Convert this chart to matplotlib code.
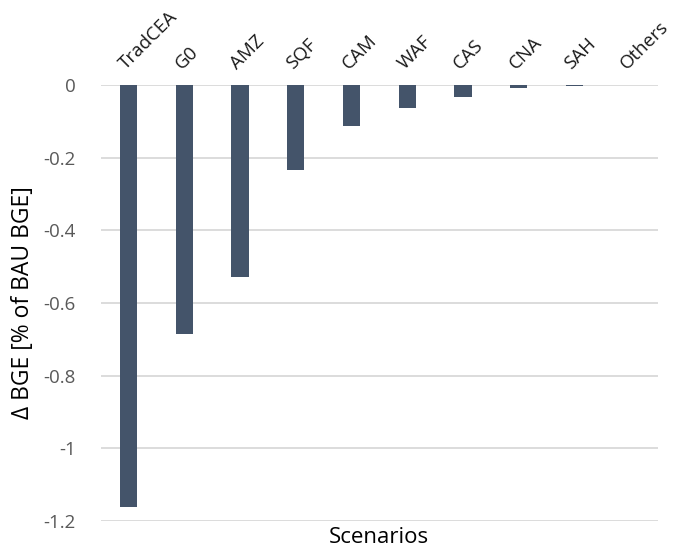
import matplotlib.pyplot as plt
import numpy as np

# Data
scenarios = ["TradCEA", "G0", "AMZ", "SQF", "CAM", "WAF", "CAS", "CNA", "SAH", "Others"]
delta_bge = [-1.162, -0.685, -0.528, -0.234, -0.113, -0.063, -0.032, -0.007, -0.002, -0.0005]
yticks = [0, -0.2, -0.4, -0.6, -0.8, -1, -1.2]
ytick_labels = ["0", "-0.2", "-0.4", "-0.6", "-0.8", "-1", "-1.2"]

plt.rcParams["font.family"] = ["Open Sans", "DejaVu Sans"]

fig = plt.figure(figsize=(6.86, 5.56), dpi=100)
ax = fig.add_axes([0.147, 0.063, 0.812, 0.784])

x = np.arange(len(scenarios))
ax.bar(x, delta_bge, width=0.31, color="#44546A", zorder=3)

ax.set_ylim(-1.2, 0)
ax.set_xlim(-0.5, len(scenarios) - 0.5)
ax.set_yticks(yticks)
ax.set_yticklabels(ytick_labels, fontsize=13.5, color="#595959")
ax.yaxis.grid(True, color="#D9D9D9", linewidth=1.3, zorder=0)
ax.set_axisbelow(True)

ax.xaxis.tick_top()
ax.set_xticks(x)
ax.set_xticklabels(scenarios, rotation=45, ha="left", rotation_mode="anchor",
                   fontsize=13.5, color="#1a1a1a")
ax.tick_params(axis="both", length=0)
ax.tick_params(axis="x", pad=9)
ax.tick_params(axis="y", pad=18)

for s in ax.spines.values():
    s.set_visible(False)

ax.set_ylabel("Δ BGE [% of BAU BGE]", fontsize=16.5, labelpad=6)
ax.set_xlabel("Scenarios", fontsize=16)
ax.xaxis.set_label_position("bottom")

fig.savefig("out.png", dpi=100)
